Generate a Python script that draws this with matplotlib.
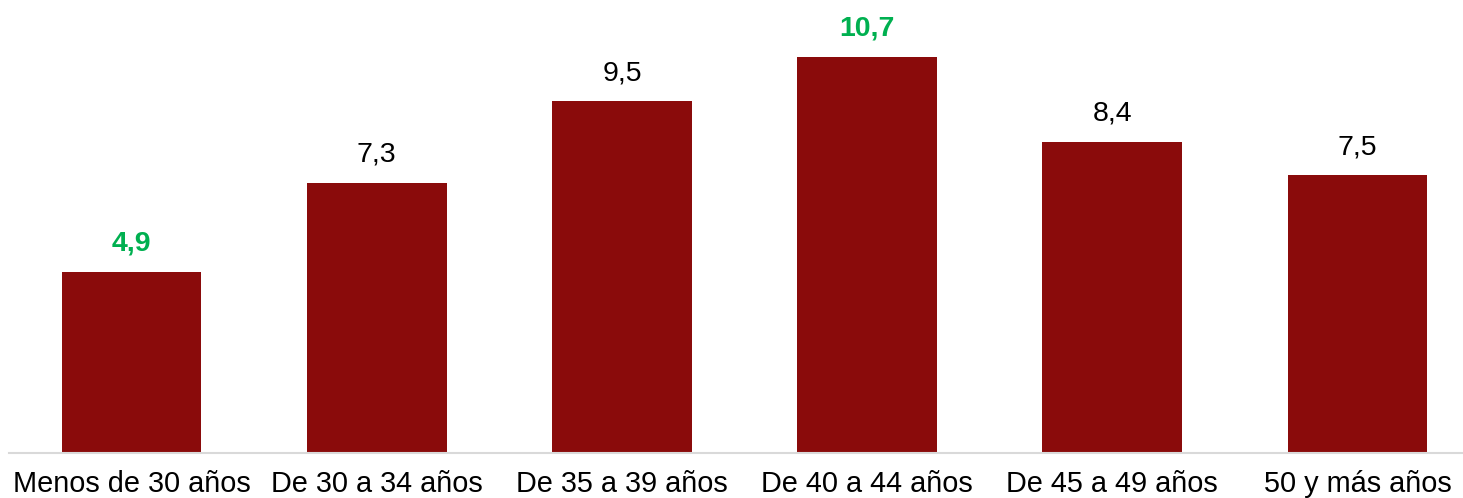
import matplotlib
matplotlib.use("Agg")
import matplotlib.pyplot as plt

categories = ["Menos de 30 años", "De 30 a 34 años", "De 35 a 39 años",
              "De 40 a 44 años", "De 45 a 49 años", "50 y más años"]
values = [4.9, 7.3, 9.5, 10.7, 8.4, 7.5]
value_labels = ["4,9", "7,3", "9,5", "10,7", "8,4", "7,5"]
highlight = [True, False, False, True, False, False]

plt.rcParams['font.family'] = ['Liberation Sans', 'DejaVu Sans']

W, H = 1463, 498
fig = plt.figure(figsize=(W / 100, H / 100), dpi=100)
ax = fig.add_axes([9 / W, (H - 453) / H, 1 - 9 / W, 453 / H])

x = list(range(len(categories)))
ax.bar(x, values, width=0.57, color="#8A0B0B", zorder=2)
ax.set_xlim(-0.5, 5.43)
ax.set_ylim(0, 453 / 37.0)

for xi, v, lab, hl in zip(x, values, value_labels, highlight):
    ax.annotate(lab, (xi, v), xytext=(0, 11), textcoords="offset points",
                ha="center", va="bottom", fontsize=20.5,
                color="#00B050" if hl else "black",
                fontweight="bold" if hl else "normal")

ax.set_xticks(x)
ax.set_xticklabels(categories, fontsize=20.8)
ax.tick_params(axis="x", length=0, pad=12)
ax.set_yticks([])
for s in ["top", "right", "left"]:
    ax.spines[s].set_visible(False)
ax.spines["bottom"].set_color("#D9D9D9")
ax.spines["bottom"].set_linewidth(1.5)

fig.savefig("out.png", dpi=100)
